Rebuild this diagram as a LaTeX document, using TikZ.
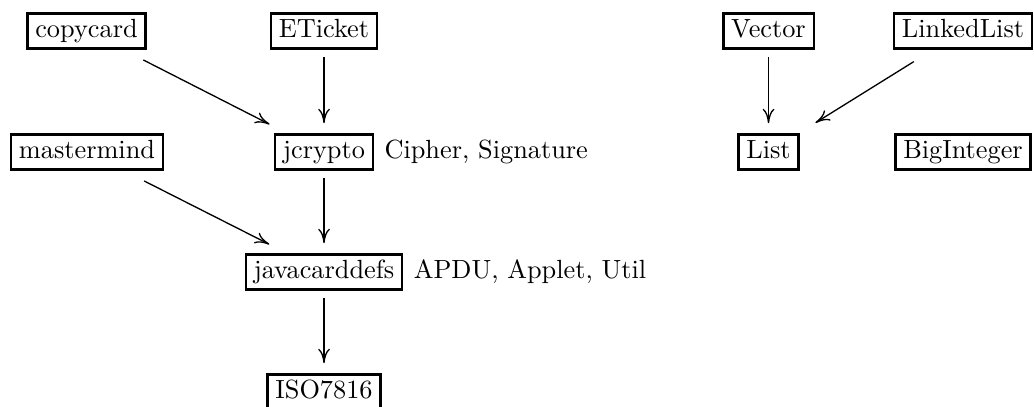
\documentclass[tikz,border=0pt]{standalone}
\usetikzlibrary{arrows.meta}
\begin{document}
\begin{tikzpicture}[x=0.3802pt,y=-0.3802pt,
  pkg/.style={draw,line width=0.9pt,inner xsep=3pt,inner ysep=2.3pt,
    text height=6.9pt,text depth=1.9pt},
  dep/.style={line width=0.5pt,
    -{Computer Modern Rightarrow[length=5.5pt,width=4.5pt]}},
  vdep/.style={dep,shorten <=2.7pt,shorten >=3.8pt},
  ddep/.style={dep,shorten <=8.5pt,shorten >=7.5pt},
  note/.style={anchor=west,inner sep=0pt,xshift=3.8pt}]
\useasboundingbox (0,0) rectangle (1034,406);

% packages
\node[pkg] (copycard)     at (86.5,31)  {copycard};
\node[pkg] (eticket)      at (324,31)   {ETicket};
\node[pkg] (vector)       at (768.5,31) {Vector};
\node[pkg] (linkedlist)   at (963,31)   {LinkedList};
\node[pkg] (mastermind)   at (87,152)   {mastermind};
\node[pkg] (jcrypto)      at (324,152)  {jcrypto};
\node[pkg] (list)         at (768.5,152){List};
\node[pkg] (biginteger)   at (963,152)  {BigInteger};
\node[pkg] (javacarddefs) at (324,272)  {javacarddefs};
\node[pkg] (iso)          at (324,392)  {ISO7816};

% classes provided
\node[note] (jcryptonote) at (jcrypto.east) {Cipher, Signature};
\node[note] (jcdnote)     at (javacarddefs.east) {APDU, Applet, Util};

% dependencies
\draw[ddep] (copycard) -- (jcrypto);
\draw[vdep] (eticket) -- (jcrypto);
\draw[ddep] (mastermind) -- (javacarddefs);
\draw[vdep] (jcrypto) -- (javacarddefs);
\draw[vdep] (javacarddefs) -- (iso);
\draw[vdep] (vector) -- (list);
\draw[ddep] (linkedlist) -- (list);
\end{tikzpicture}
\end{document}
